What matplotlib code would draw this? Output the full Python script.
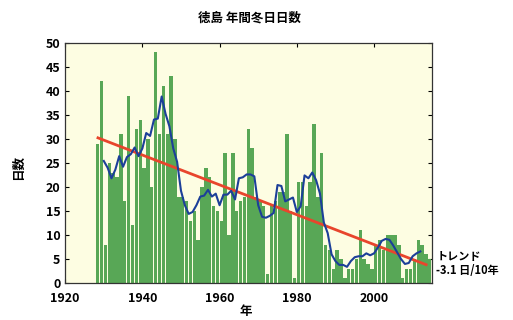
import numpy as np
import matplotlib
matplotlib.use("Agg")
import matplotlib.pyplot as plt

plt.rcParams['font.family'] = ['Noto Sans CJK JP', 'DejaVu Sans']

# 徳島 年間冬日日数 (1928-2014)
years = list(range(1928, 2015))
days = [
    29, 42, 8, 25, 23, 22, 31, 17, 39, 12,      # 1928-1937
    32, 34, 24, 30, 20, 48, 31, 41, 31, 43,     # 1938-1947
    30, 18, 18, 17, 13, 15, 9, 20, 24, 22,      # 1948-1957
    16, 15, 13, 27, 10, 27, 15, 17, 18, 32,     # 1958-1967
    28, 18, 17, 16, 2, 16, 17, 19, 19, 31,      # 1968-1977
    15, 1, 21, 21, 16, 21, 33, 18, 27, 8,       # 1978-1987
    7, 3, 7, 5, 1, 3, 3, 5, 11, 5,              # 1988-1997
    4, 3, 8, 9, 7, 10, 10, 10, 8, 1,            # 1998-2007
    3, 3, 5, 9, 8, 6, 5,                        # 2008-2014
]
trend_per_decade = -3.1
x_ticks = [1920, 1940, 1960, 1980, 2000]
y_ticks = list(range(0, 51, 5))

yrs = np.array(years)
vals = np.array(days, dtype=float)

# 5年移動平均
run_mean = np.convolve(vals, np.ones(5) / 5, mode='valid')
run_years = yrs[2:-2]

# トレンド直線 (傾きは表示値から)
slope = trend_per_decade / 10
trend_x = np.array([yrs[0] + 0.5, yrs[-1] - 0.5])
trend_y = vals.mean() + slope * (trend_x - yrs.mean())

fig = plt.figure(figsize=(5.13, 3.2), dpi=100)
ax = fig.add_axes([0.127, 0.115, 0.715, 0.752])
ax.set_facecolor('#fdfde2')

ax.bar(yrs, vals, width=0.88, align='edge', color='#58a756', edgecolor='none', zorder=2)
ax.plot(trend_x, trend_y, color='#e8452c', lw=2.0, zorder=3)
ax.plot(run_years, run_mean, color='#1c3f99', lw=1.5, zorder=4)

ax.set_xlim(1920, 2015)
ax.set_ylim(0, 50)
ax.set_xticks(x_ticks)
ax.set_yticks(y_ticks)
ax.tick_params(direction='in', top=True, right=True, labelsize=9, length=3, width=0.8)
ax.tick_params(axis='x', pad=6)
for lbl in ax.get_xticklabels() + ax.get_yticklabels():
    lbl.set_fontweight('bold')
for sp in ax.spines.values():
    sp.set_color('#333333')
    sp.set_linewidth(0.9)

fig.text(0.487, 0.944, '徳島 年間冬日日数', ha='center', va='center',
         fontsize=9, fontweight='bold')
fig.text(0.035, 0.478, '日数', rotation=90, ha='center', va='center',
         fontsize=9, fontweight='bold')
fig.text(0.48, 0.028, '年', ha='center', va='center', fontsize=9, fontweight='bold')
fig.text(0.852, 0.197, 'トレンド', ha='left', va='center', fontsize=8, fontweight='bold')
fig.text(0.850, 0.156, '-3.1 日/10年', ha='left', va='center', fontsize=8, fontweight='bold')

fig.savefig('out.png', dpi=100)
